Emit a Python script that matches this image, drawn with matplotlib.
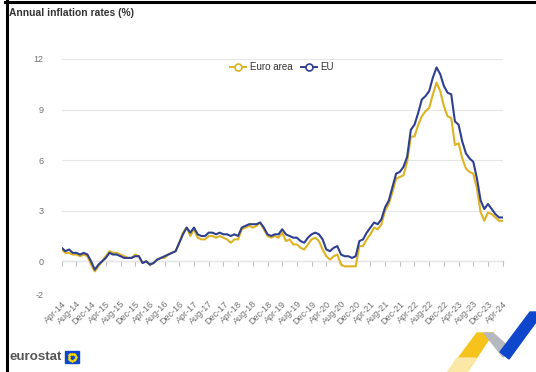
import matplotlib.pyplot as plt
import numpy as np
from matplotlib.lines import Line2D
from matplotlib.patches import Polygon, Rectangle

# ******************************************************************************
# Data: annual inflation rates (%), monthly Apr-14 .. Apr-24
# ******************************************************************************
euro_area = [
    0.7, 0.5, 0.5, 0.4, 0.4, 0.3, 0.4, 0.3, -0.2,                   # 2014
    -0.6, -0.3, 0.0, 0.3, 0.6, 0.5, 0.5, 0.4, 0.3, 0.2, 0.2, 0.4,    # 2015
    0.3, -0.1, 0.0, -0.2, -0.1, 0.1, 0.2, 0.2, 0.4, 0.5, 0.6, 1.1,   # 2016
    1.7, 2.0, 1.5, 1.9, 1.4, 1.3, 1.3, 1.5, 1.5, 1.4, 1.5, 1.4,      # 2017
    1.3, 1.1, 1.3, 1.3, 1.9, 2.0, 2.1, 2.0, 2.1, 2.3, 1.9, 1.5,      # 2018
    1.4, 1.5, 1.4, 1.7, 1.2, 1.3, 1.0, 1.0, 0.8, 0.7, 1.0, 1.3,      # 2019
    1.4, 1.2, 0.7, 0.3, 0.1, 0.3, 0.4, -0.2, -0.3, -0.3, -0.3, -0.3, # 2020
    0.9, 0.9, 1.3, 1.6, 2.0, 1.9, 2.2, 3.0, 3.4, 4.1, 4.9, 5.0,      # 2021
    5.1, 5.9, 7.4, 7.4, 8.1, 8.6, 8.9, 9.1, 9.9, 10.6, 10.1, 9.2,    # 2022
    8.6, 8.5, 6.9, 7.0, 6.1, 5.5, 5.3, 5.2, 4.3, 2.9, 2.4, 2.9,      # 2023
    2.8, 2.6, 2.4, 2.4,                                              # 2024
]
eu = [
    0.8, 0.6, 0.7, 0.5, 0.5, 0.4, 0.5, 0.4, 0.0,
    -0.5, -0.2, 0.0, 0.2, 0.5, 0.4, 0.4, 0.3, 0.2, 0.2, 0.2, 0.3,
    0.3, -0.1, 0.0, -0.2, -0.1, 0.1, 0.2, 0.3, 0.4, 0.5, 0.6, 1.1,
    1.6, 2.0, 1.7, 2.0, 1.6, 1.5, 1.5, 1.7, 1.7, 1.6, 1.7, 1.6,
    1.6, 1.5, 1.6, 1.5, 2.0, 2.1, 2.2, 2.2, 2.2, 2.3, 2.0, 1.6,
    1.5, 1.6, 1.6, 1.9, 1.6, 1.5, 1.4, 1.4, 1.2, 1.1, 1.4, 1.6,
    1.7, 1.6, 1.3, 0.7, 0.6, 0.8, 0.9, 0.4, 0.3, 0.3, 0.2, 0.3,
    1.2, 1.3, 1.7, 2.0, 2.3, 2.2, 2.5, 3.2, 3.6, 4.4, 5.2, 5.3,
    5.6, 6.2, 7.8, 8.1, 8.8, 9.6, 9.8, 10.1, 10.9, 11.5, 11.1, 10.4,
    10.0, 9.9, 8.3, 8.1, 7.1, 6.4, 6.1, 5.9, 4.9, 3.6, 3.1, 3.4,
    3.1, 2.8, 2.6, 2.6,
]
x_labels = [
    'Apr-14', 'Aug-14', 'Dec-14', 'Apr-15', 'Aug-15', 'Dec-15', 'Apr-16',
    'Aug-16', 'Dec-16', 'Apr-17', 'Aug-17', 'Dec-17', 'Apr-18', 'Aug-18',
    'Dec-18', 'Apr-19', 'Aug-19', 'Dec-19', 'Apr-20', 'Aug-20', 'Dec-20',
    'Apr-21', 'Aug-21', 'Dec-21', 'Apr-22', 'Aug-22', 'Dec-22', 'Apr-23',
    'Aug-23', 'Dec-23', 'Apr-24',
]
y_ticks = [-2, 0, 3, 6, 9, 12]
series_names = ['Euro area', 'EU']

EA_COL = '#DDB321'
EU_COL = '#2E3F8F'
GREY_TXT = '#707070'

plt.rcParams['font.family'] = ['Liberation Sans', 'DejaVu Sans']

W, H = 536, 372
fig = plt.figure(figsize=(W / 100, H / 100), dpi=100)
ax = fig.add_axes([61.7 / W, (H - 295) / H, 441 / W, 236 / H])

x = np.arange(len(euro_area))
ax.plot(x, euro_area, color=EA_COL, lw=1.5, zorder=3, solid_joinstyle='round')
ax.plot(x, eu, color=EU_COL, lw=1.5, zorder=4, solid_joinstyle='round')

ax.set_xlim(0, len(euro_area) - 1)
ax.set_ylim(y_ticks[0], y_ticks[-1])
ax.set_yticks(y_ticks)
ax.set_yticklabels([str(v) for v in y_ticks])
ax.tick_params(axis='y', length=0, pad=13, labelsize=6.5, labelcolor=GREY_TXT)
ax.grid(axis='y', color='#e6e6e6', lw=0.8, zorder=0)

ax.set_xticks(x[::4])
ax.set_xticklabels(x_labels, rotation=45, ha='right', va='top',
                   rotation_mode='anchor')
ax.tick_params(axis='x', length=0, pad=3, labelsize=6.5, labelcolor=GREY_TXT)
for s in ax.spines.values():
    s.set_visible(False)

# zero axis line with tick marks
zero_pos = (0 - y_ticks[0]) / (y_ticks[-1] - y_ticks[0])
sec = ax.secondary_xaxis(zero_pos)
sec.set_xticks(x[::4])
sec.set_xticklabels([])
sec.tick_params(length=3.5, width=0.8, color='#c0c0c0', direction='out')
sec.spines['bottom'].set_color('#c0c0c0')
sec.spines['bottom'].set_linewidth(0.9)

# legend
handles = [Line2D([], [], color=c, lw=1.4, marker='o', ms=5,
                  mfc='white', mew=1.2) for c in (EA_COL, EU_COL)]
ax.legend(handles, series_names, loc='center', bbox_to_anchor=(0.5, 0.966),
          ncol=2, frameon=False, fontsize=7, handlelength=1.6,
          handletextpad=0.4, columnspacing=0.9, labelcolor='#333333')


# helper: pixel -> figure coords
def px(xp, yp):
    return (xp / W, 1 - yp / H)


fig.text(*px(9, 13), 'Annual inflation rates (%)', fontsize=7.4,
         fontweight='bold', color='#333333', va='center')

# eurostat logo
fig.text(*px(10, 357), 'eurostat', fontsize=9.6, fontweight='bold',
         color='#555555', va='center')
fig.add_artist(Rectangle(px(65, 363), 14 / W, 12 / H, color='#0E47CB',
                         transform=fig.transFigure))
ang = np.linspace(0, 2 * np.pi, 13)[:-1]
fig.add_artist(Line2D((72 + 3.5 * np.cos(ang)) / W, 1 - (357 + 3.5 * np.sin(ang)) / H,
                      ls='none', marker='o', ms=0.9, color='#FFDD00',
                      transform=fig.transFigure))

# decorative ribbon bottom right
fig.add_artist(Polygon([px(448, 372), px(467, 372), px(493, 333), px(477, 333)],
                       closed=True, color='#F6C21C', transform=fig.transFigure))
fig.add_artist(Polygon([px(448, 372), px(467, 372), px(476, 358), px(457, 358)],
                       closed=True, color='#FBE7A6', transform=fig.transFigure))
fig.add_artist(Polygon([px(484, 333), px(493, 333), px(511, 349), px(503, 357)],
                       closed=True, color='#B5B8BE', transform=fig.transFigure))
fig.add_artist(Polygon([px(500, 352), px(530, 312), px(536, 312), px(536, 322),
                        px(509, 359)],
                       closed=True, color='#0E47CB', transform=fig.transFigure))

# black frame at left and top
fig.add_artist(Line2D([6.5 / W, 6.5 / W], [0, 1], color='black', lw=2.2,
                      transform=fig.transFigure))
fig.add_artist(Line2D([5 / W, 1], [1 - 1.5 / H, 1 - 1.5 / H], color='black',
                      lw=2.2, transform=fig.transFigure))

fig.savefig('out.png', dpi=100)
